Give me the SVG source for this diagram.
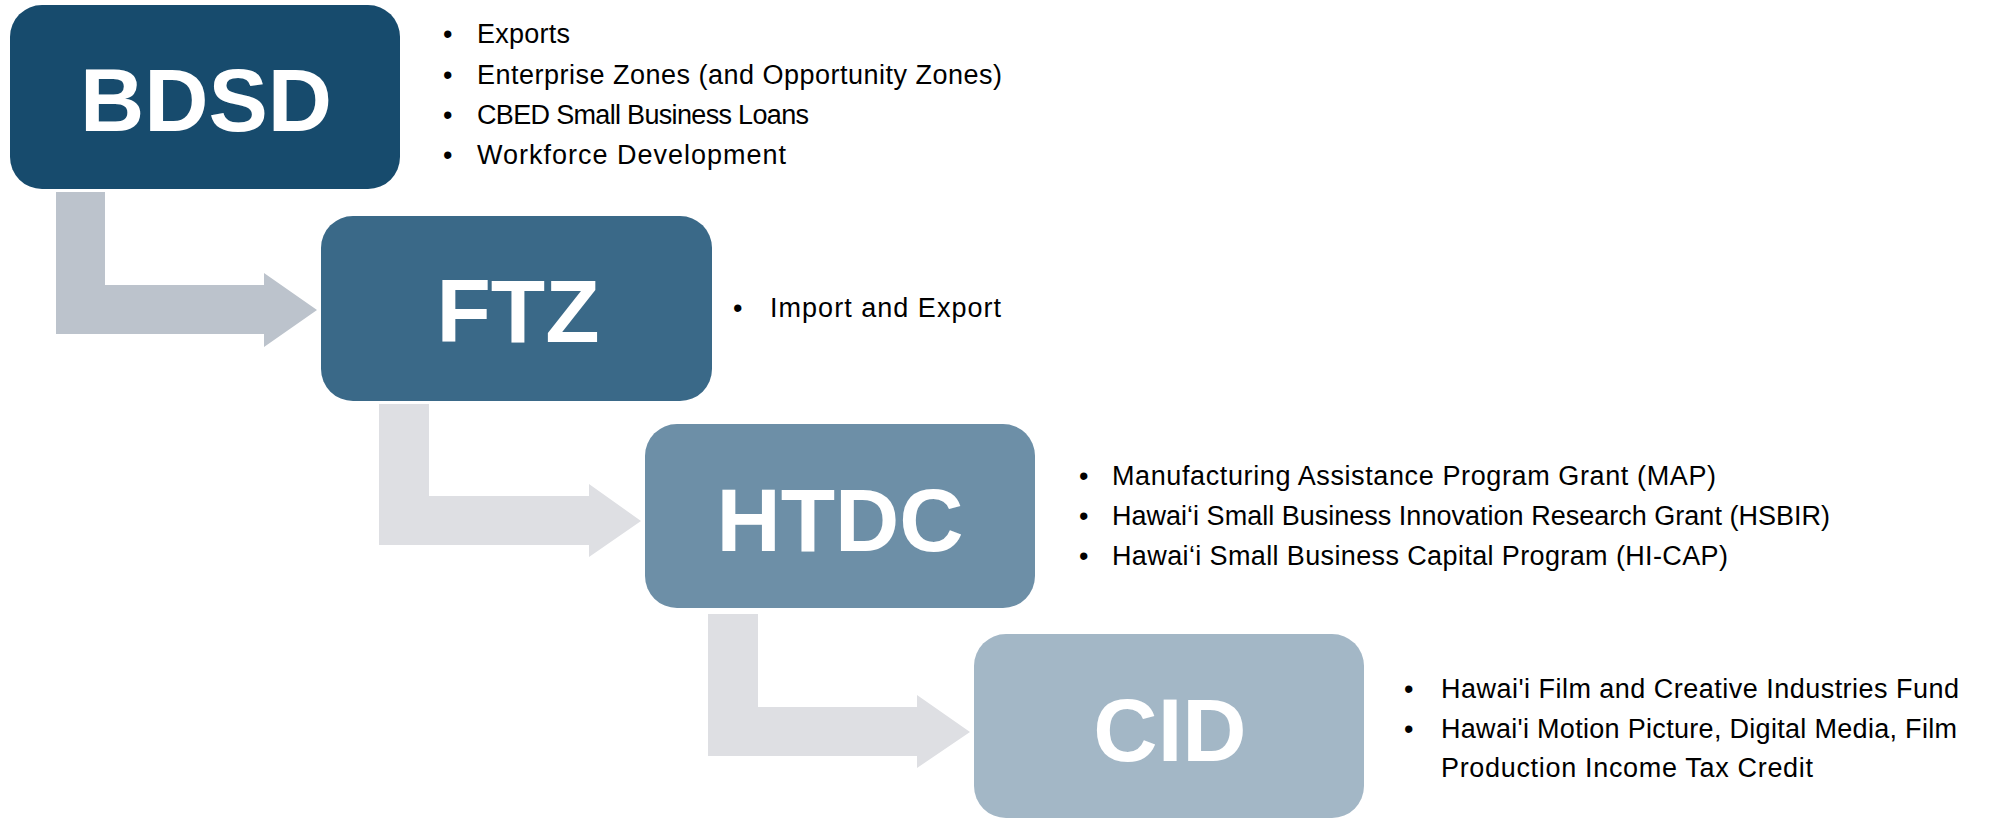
<svg xmlns="http://www.w3.org/2000/svg" width="1995" height="818" viewBox="0 0 1995 818">
<style>
.node-title{font-family:"Liberation Sans",Arial,sans-serif;font-weight:bold;font-size:89px;fill:#ffffff;text-anchor:middle}
.item{font-family:"Liberation Sans",Arial,sans-serif;font-size:27px;fill:#000000}
.bul{font-family:"Liberation Sans",Arial,sans-serif;font-size:27px;fill:#000000}
</style>
<rect width="1995" height="818" fill="#ffffff"/>
<g id="connectors">
<path d="M56,192 H105 V285 H264 V273 L317,310 L264,347 V334 H56 Z" fill="#BCC3CC"/>
<path d="M379,404 H429 V496 H589 V484 L641,521 L589,557 V545 H379 Z" fill="#DEDFE3"/>
<path d="M708,614 H758 V707 H917 V695 L970,732 L917,768 V756 H708 Z" fill="#DEDFE3"/>
</g>
<g id="node-bdsd">
<rect x="10" y="5" width="390" height="184" rx="32" ry="32" fill="#174B6D"/>
<text class="node-title" x="206" y="131">BDSD</text>
</g>
<g id="list-bdsd">
<text class="bul" x="443" y="43">•</text><text class="item" x="477" y="43" textLength="93">Exports</text>
<text class="bul" x="443" y="84">•</text><text class="item" x="477" y="84" textLength="525">Enterprise Zones (and Opportunity Zones)</text>
<text class="bul" x="443" y="124">•</text><text class="item" x="477" y="124" textLength="332">CBED Small Business Loans</text>
<text class="bul" x="443" y="164">•</text><text class="item" x="477" y="164" textLength="309">Workforce Development</text>
</g>
<g id="node-ftz">
<rect x="321" y="216" width="391" height="185" rx="32" ry="32" fill="#3A6988"/>
<text class="node-title" x="518" y="342">FTZ</text>
</g>
<g id="list-ftz">
<text class="bul" x="733" y="317">•</text><text class="item" x="770" y="317" textLength="231">Import and Export</text>
</g>
<g id="node-htdc">
<rect x="645" y="424" width="390" height="184" rx="32" ry="32" fill="#6D8FA7"/>
<text class="node-title" x="840" y="551">HTDC</text>
</g>
<g id="list-htdc">
<text class="bul" x="1079" y="485">•</text><text class="item" x="1112" y="485" textLength="604">Manufacturing Assistance Program Grant (MAP)</text>
<text class="bul" x="1079" y="525">•</text><text class="item" x="1112" y="525" textLength="718">Hawai‘i Small Business Innovation Research Grant (HSBIR)</text>
<text class="bul" x="1079" y="565">•</text><text class="item" x="1112" y="565" textLength="616">Hawai‘i Small Business Capital Program (HI-CAP)</text>
</g>
<g id="node-cid">
<rect x="974" y="634" width="390" height="184" rx="32" ry="32" fill="#A3B7C6"/>
<text class="node-title" x="1170" y="761">CID</text>
</g>
<g id="list-cid">
<text class="bul" x="1404" y="698">•</text><text class="item" x="1441" y="698" textLength="518">Hawai'i Film and Creative Industries Fund</text>
<text class="bul" x="1404" y="738">•</text><text class="item" x="1441" y="738" textLength="516">Hawai'i Motion Picture, Digital Media, Film</text>
<text class="item" x="1441" y="777" textLength="372">Production Income Tax Credit</text>
</g>
</svg>
